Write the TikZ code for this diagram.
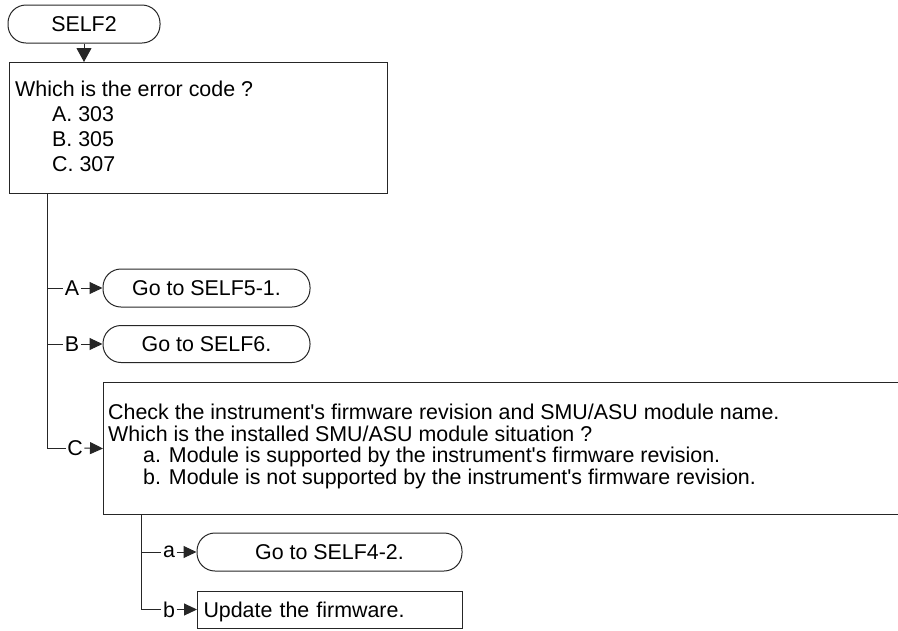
\documentclass[tikz,border=0pt]{standalone}
\usepackage{fontspec}
\setmainfont{Liberation Sans}[Ligatures=TeXOff]
\usetikzlibrary{arrows.meta}
\begin{document}
\begin{tikzpicture}[x=1pt,y=-1pt,
  every node/.style={font=\fontsize{21.4}{25}\selectfont, inner sep=0pt},
  ln/.style={draw=black!85, line width=1pt},
  term/.style={ln, rounded corners=18pt, minimum height=38pt, text height=15.3pt, text depth=0pt},
  boxed/.style={ln, rectangle, anchor=north west},
  lbl/.style={fill=white, inner xsep=1.5pt, inner ysep=1pt},
  arr/.style={ln, -{Triangle[length=13pt,width=12pt]}},
  darr/.style={ln, -{Triangle[length=14pt,width=15pt]}},
  txt/.style={anchor=base west}
]
\clip (0,0) rectangle (898,630);

% top
\node[term, minimum width=152pt] (self2) at (84,24) {SELF2};
\node[boxed, minimum width=378pt, minimum height=131pt] (q) at (9,62) {};
\node[txt] (q1) at (15,96) {Which is the error code ?};
\node[txt] (q2) at (52,121.5) {A. 303};
\node[txt] (q3) at (52,146.5) {B. 305};
\node[txt] (q4) at (52,171.5) {C. 307};
\draw[darr] (self2.south) -- (self2.south |- q.north);

% first level branches
\coordinate (v1) at (47,193);
\node[term, minimum width=207pt] (ta) at (206.5,288) {Go to SELF5-1.};
\node[term, minimum width=207pt, minimum height=37pt] (tb) at (206.5,344) {Go to SELF6.};
\node[boxed, minimum width=802pt, minimum height=132pt] (c) at (103,382) {};
\node[txt] (c1) at (108,419.5) {Check the instrument's firmware revision and SMU/ASU module name.};
\node[txt] (c2) at (108,441) {Which is the installed SMU/ASU module situation ?};
\node[txt] (c3) at (143,462.5) {a. Module is supported by the instrument's firmware revision.};
\node[txt] (c4) at (143,484) {b. Module is not supported by the instrument's firmware revision.};

\node[lbl] (la) at (72,288) {A};
\node[lbl] (lb) at (72,344) {B};
\node[lbl] (lc) at (75,448) {C};
\draw[ln] (v1) |- (lc.west);
\draw[ln] (v1 |- la) -- (la.west);
\draw[ln] (v1 |- lb) -- (lb.west);
\draw[arr] (la.east) -- (ta.west);
\draw[arr] (lb.east) -- (tb.west);
\draw[arr] (lc.east) -- (c.west);

% second level branches
\coordinate (v2) at (141,514);
\node[term, minimum width=265pt] (t4) at (329.5,552) {Go to SELF4-2.};
\node[ln, anchor=west, minimum height=37pt, text width=253pt, inner xsep=6pt, align=left, text height=15.3pt, text depth=0pt] (tu) at (197,609.5) {Update the firmware.};
\node[lbl] (lsa) at (169,552) {a};
\node[lbl] (lsb) at (169,609.5) {b};
\draw[ln] (v2) |- (lsb.west);
\draw[ln] (v2 |- lsa) -- (lsa.west);
\draw[arr] (lsa.east) -- (t4.west);
\draw[arr] (lsb.east) -- (tu.west);
\end{tikzpicture}
\end{document}
